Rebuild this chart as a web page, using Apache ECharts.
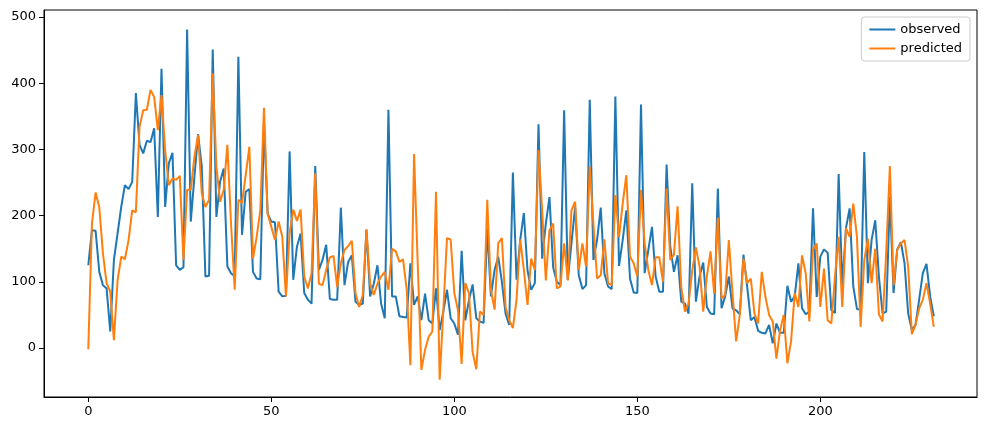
<!DOCTYPE html>
<html><head><meta charset="utf-8">
<script src="https://cdn.jsdelivr.net/npm/echarts@6/dist/echarts.min.js"></script>
<style>html,body{margin:0;padding:0;background:#fff}#c{width:986px;height:431px}</style>
</head><body><div id="c"></div>
<script>
const observed = [125,178,177,115,95,90,25,133,173,213,246,240,251,385,307,294,313,311,332,198,422,213,279,295,125,118,122,481,
191,259,323,274,108,109,451,198,251,271,123,113,108,440,171,236,240,115,105,104,340,203,191,190,85,78,79,297,103,
153,173,83,73,67,275,118,133,156,74,73,73,212,95,130,140,70,65,67,179,78,97,125,67,45,360,78,78,48,
47,46,128,65,78,42,82,42,37,90,27,55,88,45,37,20,147,42,72,96,45,40,38,181,78,118,138,
100,52,35,265,103,163,204,117,88,98,338,135,188,228,122,100,95,359,103,158,213,110,89,95,375,133,163,212,113,93,
89,380,124,163,208,105,84,83,368,113,148,183,108,85,85,277,153,115,140,70,67,52,249,70,108,129,62,52,51,
241,60,78,108,60,57,51,141,93,42,47,26,23,22,35,7,37,23,23,94,70,78,128,60,51,55,211,77,
138,149,144,57,53,263,93,181,211,93,59,58,296,98,163,193,108,52,55,228,83,149,160,128,52,27,35,73,113,127,78,48];
const predicted = [-2,188,235,213,143,98,85,12,102,138,134,163,208,205,334,359,360,390,379,329,382,299,246,256,254,260,133,239,
239,289,322,234,213,224,415,274,221,239,307,188,88,224,219,261,304,135,168,208,363,203,183,163,191,168,78,173,209,
192,209,108,90,113,264,97,95,118,137,139,92,128,148,154,162,83,62,80,179,97,80,97,108,115,88,150,146,130,
134,88,-26,293,128,-33,-3,17,25,236,-48,57,166,164,83,57,-24,98,83,-6,-32,55,50,224,88,58,158,
166,62,42,30,73,164,118,65,135,118,299,208,102,178,188,90,93,158,102,208,221,118,158,123,274,188,105,110,164,98,
95,231,168,218,261,138,128,108,239,158,118,95,137,137,100,241,133,141,214,92,55,67,117,152,123,55,108,146,82,
197,75,80,163,83,10,50,135,98,105,52,37,115,77,50,40,-16,27,50,-23,10,83,62,140,113,40,149,158,
62,120,42,37,108,168,62,181,168,218,168,32,133,165,98,150,51,40,145,275,95,148,158,163,123,21,35,60,73,98,67,32];
const xTicks = [0,50,100,150,200];
const yTicks = [0,100,200,300,400,500];

const chart = echarts.init(document.getElementById('c'), null, {renderer:'canvas'});
const lab = {color:'#000', fontSize:13, fontFamily:'DejaVu Sans'};
chart.setOption({
  animation:false,
  grid:{left:44, right:9, top:10, bottom:34, show:true, borderColor:'#000', borderWidth:1},
  legend:{orient:'vertical', right:16, top:17, padding:[6,8,6,8], itemGap:6, itemWidth:26, itemHeight:2,
    borderColor:'#ccc', borderWidth:1, borderRadius:3, backgroundColor:'rgba(255,255,255,0.8)',
    textStyle:{color:'#000', fontSize:13, fontFamily:'DejaVu Sans'},
    data:[{name:'observed', icon:'rect'},{name:'predicted', icon:'rect'}]},
  xAxis:{type:'value', min:-12.1, max:242.8,
    axisLine:{show:true, onZero:false, lineStyle:{color:'#000'}},
    axisTick:{show:true, length:5, customValues:xTicks, lineStyle:{color:'#000'}},
    axisLabel:Object.assign({customValues:xTicks, margin:8}, lab),
    splitLine:{show:false}},
  yAxis:{type:'value', min:-74, max:510.6,
    axisLine:{show:true, onZero:false, lineStyle:{color:'#000'}},
    axisTick:{show:true, length:5, customValues:yTicks, lineStyle:{color:'#000'}},
    axisLabel:Object.assign({customValues:yTicks, margin:8}, lab),
    splitLine:{show:false}},
  series:[
    {name:'observed', type:'line', data:observed.map((v,i)=>[i,v]), showSymbol:false, color:'#1f77b4', lineStyle:{width:2}},
    {name:'predicted', type:'line', data:predicted.map((v,i)=>[i,v]), showSymbol:false, color:'#ff7f0e', lineStyle:{width:2}}
  ]
});
</script></body></html>
